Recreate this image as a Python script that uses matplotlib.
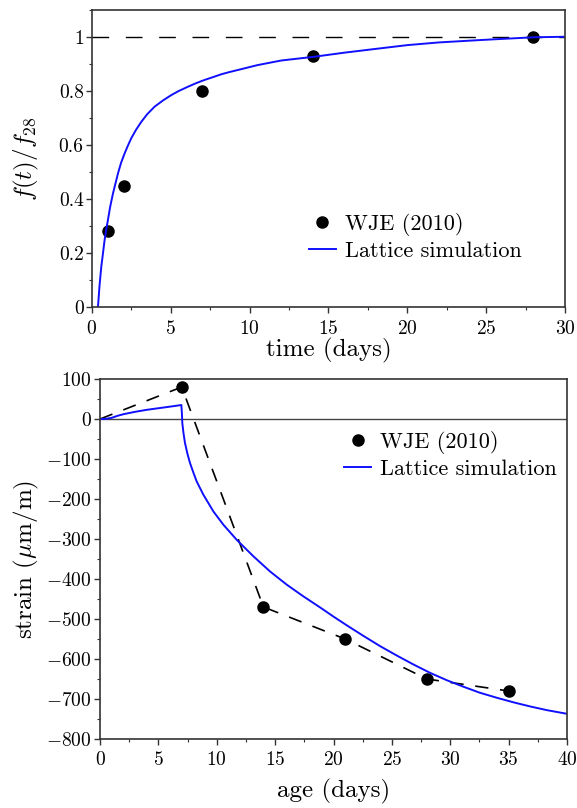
import numpy as np
import matplotlib
matplotlib.use("Agg")
import matplotlib.pyplot as plt
from matplotlib.ticker import MultipleLocator

plt.rcParams['font.family'] = 'cmr10'
plt.rcParams['mathtext.fontset'] = 'cm'
plt.rcParams['axes.unicode_minus'] = False
plt.rcParams['axes.formatter.use_mathtext'] = True

# top panel: strength ratio
wje_t = [1, 2, 7, 14, 28]
wje_f = [0.28, 0.45, 0.80, 0.93, 1.0]
sim_t = [0.38, 0.48, 0.59, 0.7, 0.8, 0.9, 1.01, 1.15, 1.33, 1.5, 1.65, 1.85, 2.07, 2.28, 2.49, 2.8, 3.13, 3.5, 3.97, 4.5,
         5.03, 5.5, 6.09, 6.6, 7.14, 7.7, 8.2, 8.7, 9.26, 10.5, 12, 14.1, 16, 17.7, 20, 22, 24.7, 26, 28, 30]
sim_f = [0.0, 0.08, 0.149, 0.2, 0.248, 0.285, 0.322, 0.37, 0.42, 0.46, 0.495, 0.535, 0.569, 0.598, 0.625, 0.657, 0.686,
         0.714, 0.742, 0.765, 0.785, 0.8, 0.816, 0.829, 0.841, 0.852, 0.862, 0.87, 0.878, 0.896, 0.913, 0.927, 0.942,
         0.954, 0.970, 0.98, 0.989, 0.993, 0.999, 1.001]

# bottom panel: strain
wje_age = [0, 7, 14, 21, 28, 35]
wje_strain = [0, 80, -470, -550, -650, -680]
sim_age = [0, 0.5, 1, 1.5, 2, 3, 4, 5, 6, 6.97, 7.02, 7.05, 7.15, 7.28, 7.5, 7.71, 8.0, 8.28, 8.85, 9.71, 10.56, 11.71,
           13.13, 14.56, 15.99, 17.4, 18.9, 20.0, 21.2, 22.55, 24, 25.4, 26.8, 28.3, 29.7, 31.1, 32.5, 34.0, 35.5,
           36.9, 38.3, 40]
sim_strain = [0, 0.5, 3, 8, 12, 18, 23, 27, 31, 35, 12, -10, -35, -60, -88, -110, -134, -156, -189, -231, -264, -302,
              -343, -381, -414, -443, -472, -494, -517, -542, -568, -591, -613, -635, -653, -669, -684, -697, -709,
              -719, -728, -737]

fig = plt.figure(figsize=(5.77, 8.08), dpi=100)
ax1 = fig.add_axes([0.1594, 0.620, 0.8198, 0.3676])
ax2 = fig.add_axes([0.1733, 0.0854, 0.8094, 0.4455])

ax1.axhline(1, color='k', ls=(0, (12, 12)), lw=1.0)
ax1.plot(wje_t, wje_f, 'o', color='k', ms=8, label='WJE (2010)')
ax1.plot(sim_t, sim_f, color='#1010ff', lw=1.4, label='Lattice simulation')
ax1.set_xlim(0, 30)
ax1.set_ylim(0, 1.1)
ax1.set_xticks([0, 5, 10, 15, 20, 25, 30])
ax1.set_yticks([0, 0.2, 0.4, 0.6, 0.8, 1.0])
ax1.set_yticklabels(['0', '0.2', '0.4', '0.6', '0.8', '1'])
ax1.xaxis.set_minor_locator(MultipleLocator(2.5))
ax1.yaxis.set_minor_locator(MultipleLocator(0.1))
ax1.set_xlabel('time (days)', fontsize=18, labelpad=0)
ax1.set_ylabel(r'$f(t)/f_{28}$', fontsize=18, labelpad=13)
ax1.legend(loc='center left', bbox_to_anchor=(0.459, 0.237), frameon=False, borderpad=0, borderaxespad=0,
           fontsize=16, handlelength=1.2, handletextpad=0.4, labelspacing=0.25)

ax2.axhline(0, color='#444444', lw=1.0)
ax2.plot(wje_age, wje_strain, color='k', ls=(0, (8, 7)), lw=1.2)
ax2.plot(wje_age[1:], wje_strain[1:], 'o', color='k', ms=8, label='WJE (2010)')
ax2.plot(sim_age, sim_strain, color='#1010ff', lw=1.4, label='Lattice simulation')
ax2.set_xlim(0, 40)
ax2.set_ylim(-800, 100)
ax2.set_xticks(range(0, 41, 5))
ax2.set_yticks(range(-800, 101, 100))
ax2.xaxis.set_minor_locator(MultipleLocator(2.5))
ax2.yaxis.set_minor_locator(MultipleLocator(50))
ax2.set_xlabel('age (days)', fontsize=18, labelpad=7)
ax2.set_ylabel(r'strain ($\mu$m/m)', fontsize=18, labelpad=4)
ax2.legend(loc='center left', bbox_to_anchor=(0.523, 0.79), frameon=False, borderpad=0, borderaxespad=0,
           fontsize=16, handlelength=1.2, handletextpad=0.4, labelspacing=0.25)

for ax in (ax1, ax2):
    for s in ax.spines.values():
        s.set_linewidth(1.2)
        s.set_color('#333333')
    ax.tick_params(which='major', direction='out', length=4, width=1, labelsize=14, pad=2, colors='#333333', labelcolor='k')
    ax.tick_params(which='minor', direction='out', length=2.5, width=0.8, colors='#333333')
    ax.tick_params(axis='x', which='major', pad=5)

fig.savefig('out.png', dpi=100)
